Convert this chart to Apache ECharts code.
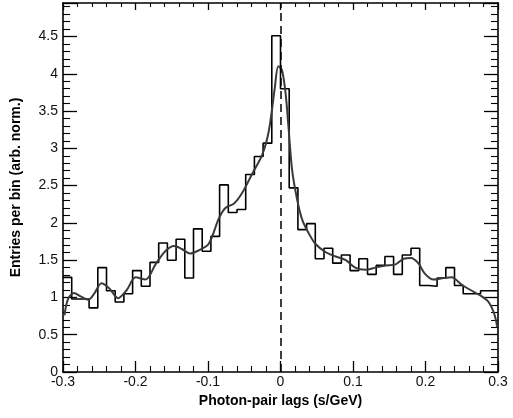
<!DOCTYPE html>
<html>
<head>
<meta charset="utf-8">
<script src="https://cdn.jsdelivr.net/npm/echarts@6/dist/echarts.min.js"></script>
<style>
  html, body { margin: 0; padding: 0; background: #fff; }
  #chart { width: 513px; height: 418px; }
</style>
</head>
<body>
<div id="chart"></div>
<script>
// histogram: 50 bins of 0.012 from -0.3 to 0.3
var binStart = -0.3;
var binWidth = 0.012;
var binValues = [
  1.27, 0.98, 0.98, 0.86, 1.40, 1.09, 0.94, 1.05, 1.36, 1.15,
  1.47, 1.73, 1.50, 1.78, 1.26, 1.92, 1.62, 1.82, 2.51, 2.14,
  2.18, 2.65, 2.89, 3.07, 4.51, 3.80, 2.47, 1.91, 1.99, 1.52,
  1.66, 1.46, 1.57, 1.36, 1.52, 1.31, 1.43, 1.55, 1.31, 1.57,
  1.66, 1.16, 1.15, 1.26, 1.40, 1.16, 1.05, 1.05, 1.09, 1.09
];

// smooth fit curve
var fitX = [
  -0.298, -0.293, -0.285, -0.275, -0.265, -0.257, -0.247, -0.236, -0.224, -0.212,
  -0.200, -0.186, -0.172, -0.159, -0.147, -0.136, -0.125, -0.113, -0.099, -0.085,
  -0.076, -0.064, -0.053, -0.039, -0.025, -0.016, -0.008, -0.003, 0.002, 0.007,
  0.011, 0.016, 0.023, 0.030, 0.039, 0.048, 0.062, 0.076, 0.090, 0.103,
  0.117, 0.131, 0.145, 0.158, 0.170, 0.180, 0.190, 0.199, 0.211, 0.225,
  0.236, 0.250, 0.262, 0.275, 0.286, 0.292, 0.296, 0.299
];
var fitY = [
  0.76, 0.98, 1.06, 1.01, 0.97, 1.05, 1.19, 1.12, 0.99, 1.10,
  1.27, 1.24, 1.45, 1.62, 1.69, 1.65, 1.59, 1.63, 1.72, 2.06,
  2.20, 2.26, 2.40, 2.66, 2.92, 3.24, 3.80, 4.10, 4.05, 3.74,
  3.29, 2.71, 2.31, 2.04, 1.86, 1.72, 1.61, 1.55, 1.50, 1.40,
  1.37, 1.40, 1.43, 1.44, 1.52, 1.53, 1.46, 1.32, 1.24, 1.26,
  1.27, 1.17, 1.10, 1.03, 0.95, 0.85, 0.74, 0.60
];

var peakLag = -0.003; // dashed line
var xTitle = 'Photon-pair lags (s/GeV)';
var yTitle = 'Entries per bin (arb. norm.)';

// step points at left bin edges + closing point
var histData = binValues.map(function(v, i) {
  return [binStart + i * binWidth, v];
});
histData.push([binStart + binValues.length * binWidth, binValues[binValues.length - 1]]);

var fitData = fitX.map(function(x, i) {
  return [x, fitY[i]];
});

var font = 'Liberation Sans, Arial, sans-serif';

function frameAxis(pos, isX, withLabels) {
  var major = (pos == 'top') ? 7 : (isX ? 11 : 14);
  var minor = (pos == 'top') ? 4 : (isX ? 6 : 7);
  return {
    type: 'value',
    position: pos,
    min: isX ? -0.3 : 0,
    max: isX ? 0.3 : 4.95,
    interval: isX ? 0.1 : 0.5,
    axisLine: { show: true, onZero: false, lineStyle: { color: '#000', width: 1.6 } },
    axisTick: { show: true, inside: true, length: major, lineStyle: { color: '#000', width: 1.3 } },
    minorTick: { show: true, splitNumber: 5, length: minor, lineStyle: { color: '#000', width: 1.1 } },
    splitLine: { show: false },
    axisLabel: {
      show: withLabels,
      showMaxLabel: isX,
      margin: isX ? 3 : 5,
      color: '#111',
      fontSize: 14,
      fontFamily: font,
      formatter: function(v) {
        return Math.round(v * 10) / 10 + '';
      }
    }
  };
}

var xBottom = frameAxis('bottom', true, true);
xBottom.name = xTitle;
xBottom.nameLocation = 'middle';
xBottom.nameGap = 22;
xBottom.nameTextStyle = { fontSize: 14, fontWeight: 'bold', fontFamily: font, color: '#000' };

var yLeft = frameAxis('left', false, true);
yLeft.name = yTitle;
yLeft.nameLocation = 'middle';
yLeft.nameGap = 40;
yLeft.nameTextStyle = { fontSize: 14, fontWeight: 'bold', fontFamily: font, color: '#000' };

var myChart = echarts.init(document.getElementById('chart'), null, { renderer: 'canvas' });

var option = {
  animation: false,
  backgroundColor: '#fff',
  grid: { left: 63, right: 15, top: 3, bottom: 46 },
  xAxis: [xBottom, frameAxis('top', true, false)],
  yAxis: [yLeft, frameAxis('right', false, false)],
  series: [
    {
      type: 'line',
      data: histData,
      step: 'end',
      symbol: 'none',
      lineStyle: { color: '#000', width: 1.6 },
      markLine: {
        silent: true,
        symbol: 'none',
        label: { show: false },
        lineStyle: { color: '#000', width: 1.5, type: [8, 5] },
        data: [{ xAxis: peakLag }]
      }
    },
    {
      type: 'line',
      data: fitData,
      smooth: 0.3,
      symbol: 'none',
      lineStyle: { color: '#3a3a3a', width: 2 }
    }
  ]
};

myChart.setOption(option);
</script>
</body>
</html>
